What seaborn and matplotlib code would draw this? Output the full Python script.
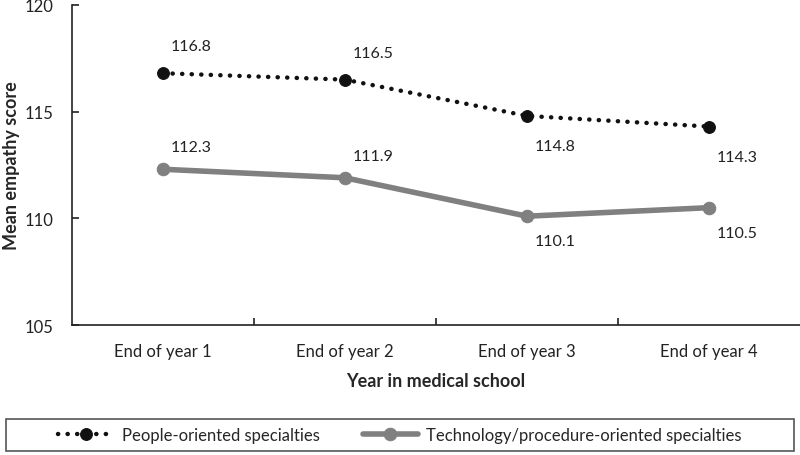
import pandas as pd
import matplotlib.pyplot as plt
import seaborn as sns
from matplotlib.patches import Rectangle

years = ['End of year 1', 'End of year 2', 'End of year 3', 'End of year 4']
people = [116.8, 116.5, 114.8, 114.3]
tech = [112.3, 111.9, 110.1, 110.5]
people_label = 'People-oriented specialties'
tech_label = 'Technology/procedure-oriented specialties'

df = pd.DataFrame({
    'year': years * 2,
    'score': people + tech,
    'group': [people_label] * 4 + [tech_label] * 4,
})

sns.set_style('white')
plt.rcParams['font.family'] = ['Lato', 'DejaVu Sans']

fig = plt.figure(figsize=(8, 4.56), dpi=100)
ax = fig.add_axes([0.09, 0.285, 0.91, 0.702])

sns.lineplot(data=df[df['group'] == people_label], x='year', y='score', ax=ax,
             color='#111111', lw=3.2, marker='o', ms=8.5, mec='#111111', label=people_label)
sns.lineplot(data=df[df['group'] == tech_label], x='year', y='score', ax=ax,
             color='#808080', lw=4, marker='o', ms=9, mec='#808080', label=tech_label)

# dotted look for the people line
dots = (0, (0.05, 2.1))
pline = ax.lines[0]
pline.set_linestyle(dots)
pline.set_dash_capstyle('round')

# value labels (offsets in pixels)
for i, v in enumerate(people):
    dy = 27 if i < 2 else -30
    ax.annotate(f'{v}', (i, v), xytext=(28, dy), textcoords='offset pixels',
                ha='center', va='center', fontsize=11.5, color='#222222')
for i, v in enumerate(tech):
    dy = 22 if i < 2 else -25
    ax.annotate(f'{v}', (i, v), xytext=(28, dy), textcoords='offset pixels',
                ha='center', va='center', fontsize=11.5, color='#222222')

ax.set_ylim(105, 120)
ax.set_yticks([105, 110, 115, 120])
ax.set_xlim(-0.5, 3.5)
ax.set_xticks([0, 1, 2, 3])
ax.set_xticks([0.5, 1.5, 2.5], minor=True)
ax.tick_params(axis='x', which='major', length=0, labelsize=12, pad=13, colors='#222222')
ax.tick_params(axis='x', which='minor', length=5, width=1.2, color='#222222', direction='in', bottom=True)
ax.tick_params(axis='y', length=5, width=1.2, direction='in', left=True, labelsize=12,
               pad=13, colors='#222222')
for s in ['top', 'right']:
    ax.spines[s].set_visible(False)
for s in ['left', 'bottom']:
    ax.spines[s].set_color('#222222')
    ax.spines[s].set_linewidth(1.2)

ax.set_xlabel('Year in medical school', fontsize=13, fontweight='bold', labelpad=9)
ax.set_ylabel('Mean empathy score', fontsize=13, fontweight='bold', labelpad=4)

handles, labels = ax.get_legend_handles_labels()
ax.legend().remove()
leg = fig.legend(handles, labels, loc='center', bbox_to_anchor=(0.5, 0.044),
                 ncol=2, fontsize=12, frameon=False, handlelength=3.3,
                 handletextpad=0.5, columnspacing=2.6, borderaxespad=0)
leg.legend_handles[0].set_linestyle(dots)
leg.legend_handles[0].set_dash_capstyle('round')
fig.patches.append(Rectangle((0.007, 0.009), 0.986, 0.07, transform=fig.transFigure,
                             fill=False, edgecolor='#555555', lw=1.2))

fig.savefig('out.png', dpi=100, facecolor='white')
